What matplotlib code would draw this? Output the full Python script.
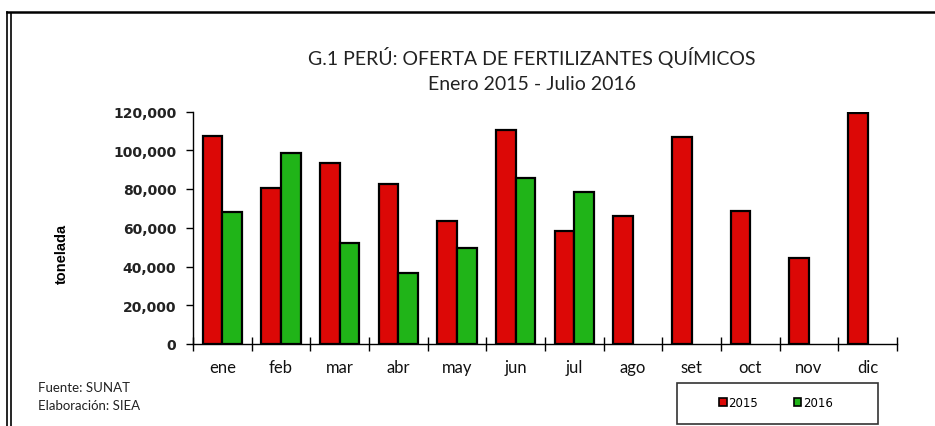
import matplotlib
matplotlib.use("Agg")
import matplotlib.pyplot as plt
import numpy as np
from matplotlib.lines import Line2D
from matplotlib.patches import Rectangle, Patch

months = ["ene", "feb", "mar", "abr", "may", "jun", "jul", "ago", "set", "oct", "nov", "dic"]
vals_2015 = [107300, 80300, 93400, 82400, 63300, 110700, 58500, 66100, 107000, 68900, 44300, 119300]
vals_2016 = [68300, 98700, 52000, 36900, 49800, 85600, 78600, None, None, None, None, None]
yticks = [0, 20000, 40000, 60000, 80000, 100000, 120000]

RED = "#DC0806"
GREEN = "#20B418"

W, H = 935, 427
fig = plt.figure(figsize=(W / 100, H / 100), dpi=100)
fig.patch.set_facecolor("white")

x0, x1, y0, y1 = 193, 897, 345, 112.5
ax = fig.add_axes([x0 / W, 1 - y0 / H, (x1 - x0) / W, (y0 - y1) / H])

x = np.arange(len(months))
w = 1 / 3
v16 = [np.nan if v is None else v for v in vals_2016]
ax.bar(x - w / 2, vals_2015, width=w, color=RED, edgecolor="black", linewidth=1.6, zorder=3)
ax.bar(x + w / 2, v16, width=w, color=GREEN, edgecolor="black", linewidth=1.6, zorder=3)

ax.set_xlim(-0.5, len(months) - 0.5)
ax.set_ylim(0, 120000)
for s in ["top", "right"]:
    ax.spines[s].set_visible(False)
for s in ["left", "bottom"]:
    ax.spines[s].set_linewidth(1.0)

ax.set_yticks(yticks)
ax.set_yticklabels([f"{v:,}" for v in yticks], fontfamily="DejaVu Sans", fontweight="bold", fontsize=10, color="#222222")
ax.tick_params(axis="y", length=5, width=1, pad=7)

ax.set_xticks(np.arange(len(months) + 1) - 0.5)
ax.set_xticklabels([])
ax.tick_params(axis="x", direction="inout", length=10, width=1)
for i, m in enumerate(months):
    ax.text(i, -0.097, m, transform=ax.get_xaxis_transform(), ha="center", va="center",
            fontfamily="Lato", fontsize=12, color="#111111")

fig.text(62 / W, 1 - 254 / H, "tonelada", rotation=90, ha="center", va="center",
         fontfamily="Liberation Sans", fontweight="bold", fontsize=10.5)

fig.text(532 / W, 1 - 57 / H, "G.1 PERÚ: OFERTA DE FERTILIZANTES QUÍMICOS", ha="center", va="center",
         fontfamily="Lato", fontsize=14, color="#222222")
fig.text(532 / W, 1 - 84 / H, "Enero 2015 - Julio 2016", ha="center", va="center",
         fontfamily="Lato", fontsize=14, color="#222222")

fig.text(38 / W, 1 - 388 / H, "Fuente: SUNAT", ha="left", va="center", fontfamily="Lato", fontsize=9.5, color="#222222")
fig.text(38 / W, 1 - 406 / H, "Elaboración: SIEA", ha="left", va="center", fontfamily="Lato", fontsize=9.5, color="#222222")

# legend box
fig.add_artist(Rectangle((677 / W, 1 - 425 / H), (878 - 677) / W, (425 - 384) / H,
                         transform=fig.transFigure, facecolor="white", edgecolor="#333333", linewidth=1.2))
handles = [Patch(facecolor=RED, edgecolor="black", linewidth=1.2, label="2015"),
           Patch(facecolor=GREEN, edgecolor="black", linewidth=1.2, label="2016")]
fig.legend(handles=handles, loc="center", bbox_to_anchor=(776 / W, 1 - 404 / H), ncol=2, frameon=False,
           handlelength=0.65, handleheight=0.65, handletextpad=0.15, columnspacing=3.0,
           prop={"family": "DejaVu Sans", "size": 8.5})

# outer border
fig.add_artist(Line2D([7 / W, 1], [1 - 13 / H, 1 - 13 / H], transform=fig.transFigure, color="black", linewidth=1.8))
fig.add_artist(Line2D([7 / W, 7 / W], [0, 1 - 13 / H], transform=fig.transFigure, color="black", linewidth=1.2))
fig.add_artist(Line2D([10.5 / W, 10.5 / W], [0, 1 - 14 / H], transform=fig.transFigure, color="black", linewidth=1.2))

fig.savefig("out.png", dpi=100, facecolor="white")
